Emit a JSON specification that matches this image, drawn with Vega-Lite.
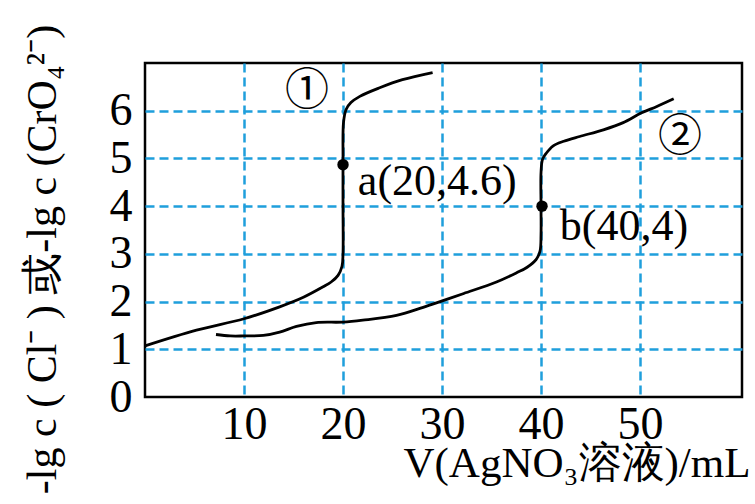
{
  "$schema": "https://vega.github.io/schema/vega-lite/v6.json",
  "width": 597,
  "height": 334,
  "autosize": {"type": "none"},
  "padding": {"left": 145, "top": 63, "right": 13, "bottom": 107},
  "background": "white",
  "config": {
    "view": {"stroke": "black", "strokeWidth": 2.5},
    "font": "Liberation Serif"
  },
  "datasets": {
    "curves": [
      {"series": "1", "i": 0, "x": 0, "y": 1.07},
      {"series": "1", "i": 1, "x": 5.2, "y": 1.4},
      {"series": "1", "i": 2, "x": 10, "y": 1.64},
      {"series": "1", "i": 3, "x": 13.6, "y": 1.89},
      {"series": "1", "i": 4, "x": 16, "y": 2.09},
      {"series": "1", "i": 5, "x": 18, "y": 2.31},
      {"series": "1", "i": 6, "x": 18.8, "y": 2.41},
      {"series": "1", "i": 7, "x": 19.5, "y": 2.55},
      {"series": "1", "i": 8, "x": 19.9, "y": 2.74},
      {"series": "1", "i": 9, "x": 20, "y": 3.0},
      {"series": "1", "i": 10, "x": 20, "y": 4.0},
      {"series": "1", "i": 11, "x": 20, "y": 5.0},
      {"series": "1", "i": 12, "x": 20.05, "y": 5.75},
      {"series": "1", "i": 13, "x": 20.3, "y": 6.02},
      {"series": "1", "i": 14, "x": 20.8, "y": 6.17},
      {"series": "1", "i": 15, "x": 21.7, "y": 6.3},
      {"series": "1", "i": 16, "x": 23.7, "y": 6.48},
      {"series": "1", "i": 17, "x": 26, "y": 6.65},
      {"series": "1", "i": 18, "x": 29.05, "y": 6.8},
      {"series": "2", "i": 0, "x": 7.17, "y": 1.31},
      {"series": "2", "i": 1, "x": 8.6, "y": 1.28},
      {"series": "2", "i": 2, "x": 10, "y": 1.28},
      {"series": "2", "i": 3, "x": 11.95, "y": 1.29},
      {"series": "2", "i": 4, "x": 13.6, "y": 1.36},
      {"series": "2", "i": 5, "x": 15.3, "y": 1.48},
      {"series": "2", "i": 6, "x": 17.3, "y": 1.56},
      {"series": "2", "i": 7, "x": 20, "y": 1.57},
      {"series": "2", "i": 8, "x": 22, "y": 1.61},
      {"series": "2", "i": 9, "x": 25.4, "y": 1.71},
      {"series": "2", "i": 10, "x": 28.1, "y": 1.88},
      {"series": "2", "i": 11, "x": 30.1, "y": 2.02},
      {"series": "2", "i": 12, "x": 32.2, "y": 2.17},
      {"series": "2", "i": 13, "x": 35.5, "y": 2.41},
      {"series": "2", "i": 14, "x": 37.5, "y": 2.6},
      {"series": "2", "i": 15, "x": 38.6, "y": 2.72},
      {"series": "2", "i": 16, "x": 39.5, "y": 2.88},
      {"series": "2", "i": 17, "x": 39.9, "y": 3.06},
      {"series": "2", "i": 18, "x": 40, "y": 3.4},
      {"series": "2", "i": 19, "x": 40, "y": 4.0},
      {"series": "2", "i": 20, "x": 40, "y": 4.7},
      {"series": "2", "i": 21, "x": 40.15, "y": 4.98},
      {"series": "2", "i": 22, "x": 40.5, "y": 5.1},
      {"series": "2", "i": 23, "x": 41.2, "y": 5.26},
      {"series": "2", "i": 24, "x": 42.3, "y": 5.36},
      {"series": "2", "i": 25, "x": 43.9, "y": 5.46},
      {"series": "2", "i": 26, "x": 46.3, "y": 5.6},
      {"series": "2", "i": 27, "x": 48.3, "y": 5.75},
      {"series": "2", "i": 28, "x": 50.1, "y": 5.95},
      {"series": "2", "i": 29, "x": 51.7, "y": 6.09},
      {"series": "2", "i": 30, "x": 53.4, "y": 6.25}
    ],
    "points": [
      {"name": "a", "x": 20, "y": 4.87},
      {"name": "b", "x": 40.1, "y": 4.0}
    ],
    "labels": [
      {"label": "a(20,4.6)", "x": 21.5, "y": 4.23},
      {"label": "b(40,4)", "x": 41.9, "y": 3.29}
    ],
    "circled": [
      {"label": "①", "x": 16.36, "y": 6.4},
      {"label": "②", "x": 54.04, "y": 5.43}
    ]
  },
  "layer": [
    {
      "data": {"name": "curves"},
      "mark": {"type": "line", "interpolate": "catmull-rom", "color": "black", "strokeWidth": 2.8},
      "encoding": {
        "x": {
          "field": "x", "type": "quantitative",
          "scale": {"domain": [0, 60.3], "nice": false, "zero": false},
          "axis": {
            "values": [10, 20, 30, 40, 50],
            "format": "d",
            "labelFont": "Liberation Serif",
            "labelFontSize": 46,
            "labelColor": "black",
            "labelPadding": 5,
            "labelOverlap": false,
            "ticks": false,
            "tickSize": 0,
            "domain": false,
            "grid": true,
            "gridColor": "#1f9fdc",
            "gridDash": [9, 5],
            "gridWidth": 2.5,
            "gridOpacity": 1,
            "title": "V(AgNO₃溶液)/mL",
            "titleFont": "Liberation Serif",
            "titleFontSize": 43,
            "titleFontWeight": "normal",
            "titleColor": "black",
            "titleAlign": "right",
            "titleBaseline": "alphabetic",
            "titleX": 605,
            "titleY": 79
          }
        },
        "y": {
          "field": "y", "type": "quantitative",
          "scale": {"domain": [0, 7], "nice": false, "zero": false},
          "axis": {
            "values": [0, 1, 2, 3, 4, 5, 6],
            "format": "d",
            "labelFont": "Liberation Serif",
            "labelFontSize": 46,
            "labelColor": "black",
            "labelPadding": 13,
            "labelOverlap": false,
            "ticks": false,
            "tickSize": 0,
            "domain": false,
            "grid": true,
            "gridColor": "#1f9fdc",
            "gridDash": [9, 5],
            "gridWidth": 2.5,
            "gridOpacity": {"condition": {"test": "datum.value === 0", "value": 0}, "value": 1},
            "title": "-lg c ( Cl⁻ ) 或-lg c (CrO₄²⁻)",
            "titleFont": "Liberation Serif",
            "titleFontSize": 42,
            "titleFontWeight": "normal",
            "titleColor": "black",
            "titleAngle": -90,
            "titleAlign": "center",
            "titleBaseline": "alphabetic",
            "titleX": -90,
            "titleY": 196
          }
        },
        "detail": {"field": "series"},
        "order": {"field": "i", "type": "quantitative"}
      }
    },
    {
      "data": {"name": "points"},
      "mark": {"type": "circle", "color": "black", "opacity": 1, "size": 130},
      "encoding": {
        "x": {"field": "x", "type": "quantitative"},
        "y": {"field": "y", "type": "quantitative"}
      }
    },
    {
      "data": {"name": "labels"},
      "mark": {"type": "text", "font": "Liberation Serif", "fontSize": 44, "align": "left", "baseline": "alphabetic", "color": "black"},
      "encoding": {
        "x": {"field": "x", "type": "quantitative"},
        "y": {"field": "y", "type": "quantitative"},
        "text": {"field": "label"}
      }
    },
    {
      "data": {"name": "circled"},
      "mark": {"type": "text", "font": "Noto Sans CJK SC", "fontSize": 44, "align": "center", "baseline": "middle", "color": "black"},
      "encoding": {
        "x": {"field": "x", "type": "quantitative"},
        "y": {"field": "y", "type": "quantitative"},
        "text": {"field": "label"}
      }
    }
  ]
}
